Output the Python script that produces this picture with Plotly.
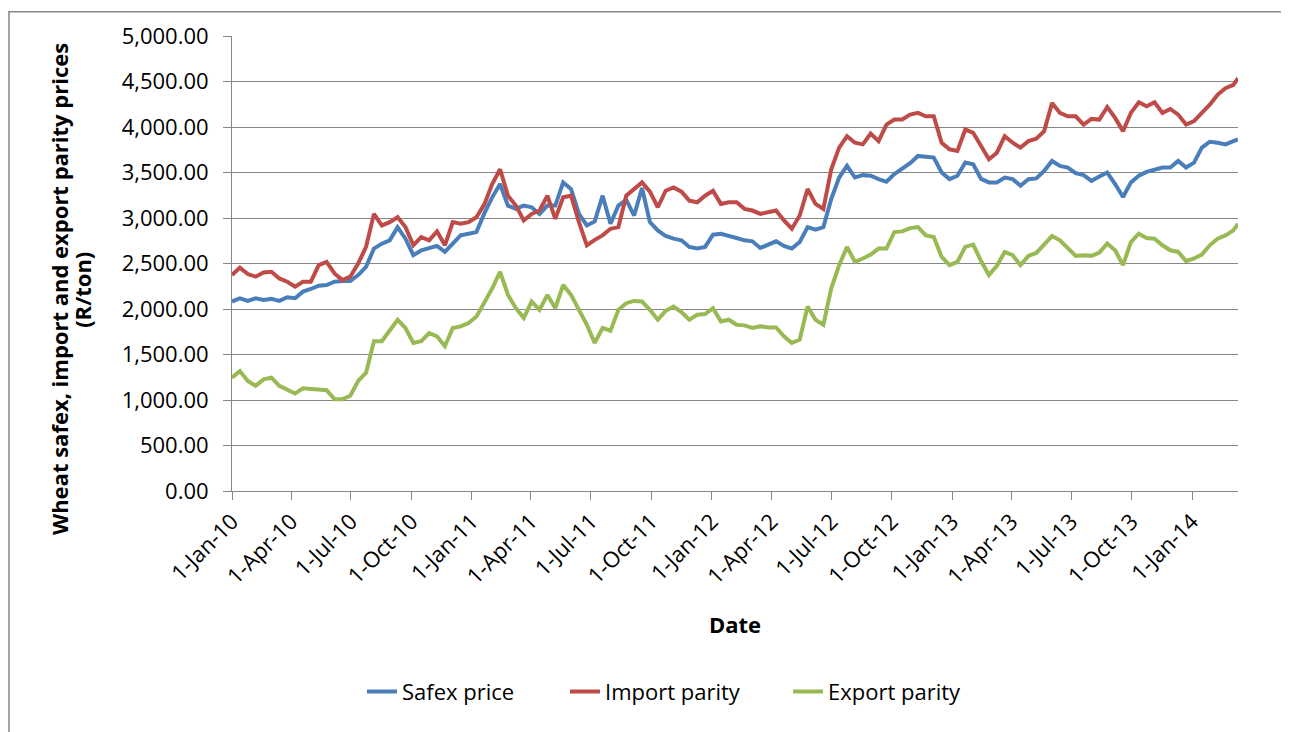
import pandas as pd
import plotly.graph_objects as go

# Sample dates (readings taken every 12 days from the chart, plus the last day shown)
sample_dates = list(pd.date_range("2010-01-01", periods=128, freq="12D")) + [pd.Timestamp("2014-03-12")]

safex_price = [
    2082, 2118, 2089, 2118, 2100, 2111, 2089, 2129, 2118, 2191, 2220, 2256, 2264, 2300, 2307, 2307,
    2373, 2464, 2664, 2718, 2755, 2900, 2773, 2591, 2645, 2664, 2693, 2627, 2718, 2809, 2827, 2845, 3050,
    3227, 3373, 3136, 3100, 3136, 3118, 3045, 3136, 3136, 3391, 3318, 3045, 2918, 2962, 3245, 2936,
    3136, 3200, 3027, 3330, 2955, 2864, 2802, 2773, 2755, 2682, 2664, 2682, 2816, 2827, 2809,
    2780, 2755, 2744, 2671, 2707, 2744, 2693, 2664, 2736, 2900, 2871, 2900, 3209, 3445, 3573, 3445,
    3471, 3464, 3427, 3398, 3482, 3536, 3602, 3682, 3675, 3664, 3500, 3427, 3464, 3609, 3591, 3430,
    3391, 3391, 3445, 3427, 3355, 3427, 3435, 3518, 3627, 3573, 3555, 3493, 3471, 3409, 3456, 3500,
    3373, 3230, 3391, 3464, 3507, 3536, 3555, 3555, 3627, 3555, 3609, 3773, 3838, 3827, 3809, 3845, 3864,
]

import_parity = [
    2373, 2455, 2384, 2355, 2402, 2409, 2336, 2300, 2246, 2300, 2300, 2482, 2518, 2391, 2318, 2355,
    2500, 2682, 3045, 2918, 2955, 3009, 2900, 2700, 2791, 2755, 2853, 2700, 2955, 2936, 2955, 3009, 3150,
    3373, 3536, 3245, 3136, 2973, 3045, 3082, 3245, 2991, 3227, 3245, 2955, 2700, 2760, 2809, 2882,
    2900, 3245, 3318, 3391, 3289, 3118, 3300, 3336, 3289, 3191, 3173, 3245, 3300, 3155, 3173,
    3173, 3100, 3082, 3045, 3064, 3082, 2973, 2882, 3027, 3318, 3155, 3100, 3536, 3773, 3900, 3827,
    3809, 3929, 3845, 4027, 4082, 4082, 4136, 4155, 4118, 4118, 3827, 3755, 3736, 3973, 3936, 3791,
    3645, 3718, 3900, 3827, 3773, 3845, 3871, 3955, 4264, 4155, 4118, 4118, 4027, 4089, 4082, 4220,
    4100, 3955, 4155, 4271, 4227, 4271, 4155, 4198, 4136, 4027, 4064, 4155, 4245, 4355, 4427, 4464, 4536,
]

export_parity = [
    1245, 1318, 1209, 1155, 1227, 1245, 1155, 1118, 1071, 1129, 1118, 1118, 1107, 1009, 1009, 1046,
    1209, 1300, 1646, 1646, 1773, 1882, 1791, 1627, 1646, 1736, 1700, 1591, 1791, 1809, 1846, 1918, 2070,
    2227, 2409, 2155, 2009, 1900, 2082, 1991, 2155, 2009, 2264, 2155, 1991, 1827, 1627, 1791, 1762,
    1991, 2064, 2089, 2082, 1991, 1882, 1980, 2027, 1966, 1882, 1936, 1944, 2009, 1864, 1882,
    1827, 1820, 1791, 1809, 1798, 1798, 1700, 1627, 1664, 2027, 1882, 1827, 2227, 2482, 2682, 2518,
    2555, 2598, 2664, 2664, 2845, 2853, 2889, 2900, 2809, 2791, 2573, 2482, 2518, 2682, 2707, 2527,
    2373, 2475, 2627, 2591, 2482, 2584, 2616, 2707, 2802, 2755, 2664, 2584, 2591, 2584, 2620, 2718,
    2645, 2482, 2736, 2827, 2780, 2773, 2700, 2645, 2627, 2526, 2555, 2598, 2700, 2773, 2809, 2864, 2936,
]

series_names = ["Safex price", "Import parity", "Export parity"]
series_colors = ["#4A7EBB", "#BE4B48", "#98B954"]
legend_ids = ["legend", "legend2", "legend3"]

FONT = "Open Sans"
FS = 22

fig = go.Figure()
for name, vals, col, lg in zip(series_names, [safex_price, import_parity, export_parity],
                               series_colors, legend_ids):
    fig.add_trace(go.Scatter(x=sample_dates, y=vals, mode="lines", name=name, legend=lg,
                             line=dict(color=col, width=4)))

legend_style = dict(orientation="h", y=-0.441, yanchor="middle", xanchor="left",
                    font=dict(family=FONT, size=FS, color="black"), bgcolor="rgba(0,0,0,0)")

title_font = dict(family=FONT, size=FS, color="black")

fig.update_layout(
    width=1281, height=724,
    paper_bgcolor="white", plot_bgcolor="white",
    margin=dict(l=224, r=51, t=25, b=241),
    font=dict(family=FONT, size=FS, color="black"),
    showlegend=True,
    legend=dict(x=0.1292, **legend_style),
    legend2=dict(x=0.331, **legend_style),
    legend3=dict(x=0.5527, **legend_style),
    xaxis=dict(type="date", range=["2010-01-01", "2014-03-12"],
               tick0="2010-01-01", dtick="M3", tickformat="%-d-%b-%y", tickangle=-45,
               ticks="outside", ticklen=8, tickcolor="#868686", showline=True, linecolor="#868686",
               showgrid=False, zeroline=False, tickfont=dict(family=FONT, size=FS, color="black")),
    yaxis=dict(range=[0, 5000], dtick=500, tickformat=",.2f",
               ticks="outside", ticklen=8, tickcolor="#868686", showline=True, linecolor="#868686",
               showgrid=True, gridcolor="#868686", gridwidth=1, zeroline=False,
               ticklabelstandoff=10,
               tickfont=dict(family=FONT, size=FS, color="black")),
    annotations=[
        dict(text="<b>Wheat safex, import and export parity prices</b>",
             xref="paper", yref="paper", x=-0.1713, y=0.443, xanchor="center", yanchor="middle",
             textangle=-90, showarrow=False, font=title_font),
        dict(text="<b>(R/ton)</b>",
             xref="paper", yref="paper", x=-0.1487, y=0.443, xanchor="center", yanchor="middle",
             textangle=-90, showarrow=False, font=title_font),
        dict(text="<b>Date</b>", xref="paper", yref="paper", x=0.5, y=-0.2926,
             xanchor="center", yanchor="middle", showarrow=False, font=title_font),
    ],
    shapes=[dict(type="rect", xref="paper", yref="paper", x0=-0.2217, x1=1.0497, y0=-0.56, y1=1.0535,
                 line=dict(color="#868686", width=1.5), layer="below")],
)

fig.write_html("out.html")
